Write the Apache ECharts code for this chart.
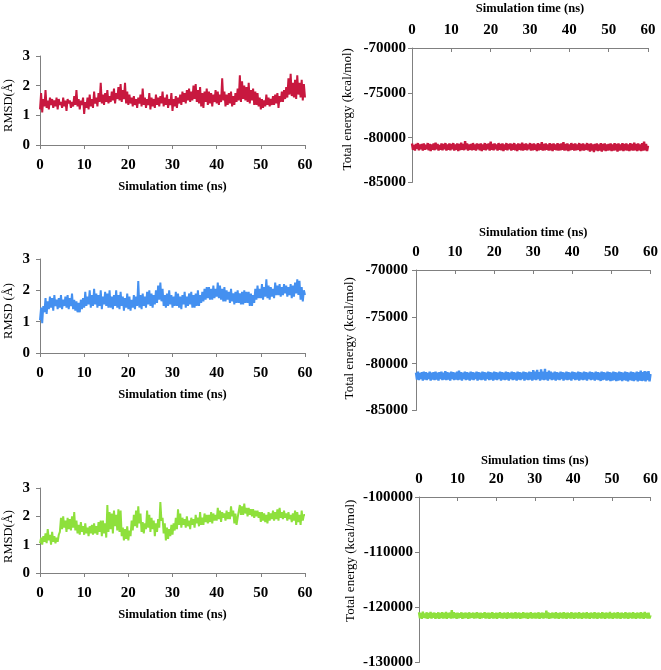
<!DOCTYPE html>
<html><head><meta charset="utf-8">
<script src="https://cdn.jsdelivr.net/npm/echarts@6/dist/echarts.min.js"></script>
<style>html,body{margin:0;padding:0;background:#fff}#c{width:661px;height:670px}</style>
</head><body><div id="c"></div>
<script>
// sampling steps (ns)
const rmsdStep = 0.25, energyStep = 0.25;

const rmsdRed = [
1.20,1.75,1.10,1.55, 1.30,1.85,1.25,1.50, 1.20,1.60,1.35,1.55, 1.25,1.50,1.30,1.60, 1.20,1.55,1.35,1.45,
1.25,1.60,1.30,1.50, 1.15,1.55,1.40,1.50, 1.25,1.45,1.30,1.65, 1.35,1.85,1.30,1.55, 1.20,1.50,1.35,1.60,
1.05,1.45,1.25,1.60, 1.20,1.70,1.30,1.55, 1.25,1.80,1.40,1.60, 1.30,1.75,1.45,2.10, 1.40,1.70,1.35,1.75,
1.45,1.85,1.40,1.65, 1.45,1.80,1.50,1.90, 1.40,1.75,1.55,1.95, 1.50,2.05,1.45,1.85, 1.55,2.10,1.40,1.80,
1.35,1.70,1.40,1.60, 1.30,1.65,1.35,1.55, 1.25,1.60,1.40,1.70, 1.30,1.90,1.35,1.60, 1.25,1.55,1.35,1.75,
1.20,1.60,1.30,1.55, 1.25,1.70,1.35,1.60, 1.30,1.65,1.40,1.80, 1.30,1.60,1.35,1.70, 1.25,1.55,1.35,1.75,
1.15,1.55,1.30,1.65, 1.25,1.60,1.40,1.70, 1.35,1.80,1.45,1.75, 1.40,1.85,1.50,1.90, 1.45,1.80,1.50,2.00,
1.55,2.05,1.45,1.85, 1.40,1.95,1.30,1.75, 1.25,1.80,1.45,1.90, 1.35,1.80,1.40,1.75, 1.30,1.70,1.45,1.85,
1.40,1.80,1.35,1.70, 1.45,2.25,1.50,1.80, 1.30,1.70,1.35,1.75, 1.40,1.80,1.30,1.65, 1.35,1.75,1.45,1.90,
1.50,2.35,1.45,2.15, 1.55,2.00,1.50,1.95, 1.45,2.10,1.40,1.85, 1.50,1.90,1.35,1.80, 1.35,1.75,1.30,1.60,
1.20,1.55,1.25,1.50, 1.30,1.70,1.35,1.60, 1.30,1.55,1.35,1.65, 1.35,1.70,1.40,1.75, 1.25,1.65,1.45,1.80,
1.45,1.85,1.55,1.95, 1.60,2.25,1.70,2.40, 1.65,2.10,1.60,2.20, 1.55,2.35,1.70,2.10, 1.60,2.20,1.50,2.05,
1.60];

const rmsdBlue = [
1.05,1.45,0.95,1.50, 1.30,1.75,1.25,1.65, 1.40,1.80,1.45,1.75, 1.35,1.85,1.50,1.70, 1.40,1.75,1.45,1.85,
1.40,1.70,1.50,1.80, 1.45,1.85,1.40,1.75, 1.50,1.90,1.40,1.70, 1.35,1.65,1.30,1.60, 1.30,1.70,1.40,1.75,
1.45,1.95,1.50,1.80, 1.55,2.00,1.45,1.85, 1.50,2.05,1.55,1.90, 1.45,1.85,1.50,2.00, 1.40,1.80,1.55,1.95,
1.50,1.90,1.45,2.00, 1.45,1.80,1.40,1.85, 1.50,2.00,1.45,1.85, 1.40,1.95,1.50,1.80, 1.35,1.75,1.45,1.90,
1.40,1.80,1.35,1.70, 1.45,1.85,1.40,1.80, 1.50,2.30,1.45,1.85, 1.40,1.90,1.50,1.80, 1.45,1.95,1.55,2.00,
1.50,1.90,1.45,1.85, 1.55,2.00,1.60,2.15, 1.70,2.25,1.65,2.05, 1.50,1.85,1.45,1.90, 1.50,2.00,1.55,1.85,
1.45,1.80,1.50,1.95, 1.50,1.90,1.45,1.80, 1.40,1.85,1.55,1.95, 1.45,1.80,1.50,1.90, 1.55,1.95,1.45,1.85,
1.45,1.90,1.50,2.00, 1.50,1.85,1.60,1.95, 1.65,2.05,1.70,2.10, 1.75,2.10,1.70,2.05, 1.70,2.15,1.75,2.05,
1.80,2.25,1.75,2.15, 1.70,2.05,1.65,2.10, 1.65,2.00,1.70,1.95, 1.60,2.05,1.65,1.90, 1.55,1.95,1.60,2.00,
1.60,1.90,1.55,1.95, 1.55,2.00,1.60,1.95, 1.60,1.95,1.50,1.90, 1.50,1.85,1.60,2.05, 1.70,2.15,1.75,2.05,
1.75,2.20,1.70,2.10, 1.80,2.35,1.75,2.15, 1.70,2.10,1.80,2.05, 1.75,2.25,1.85,2.15, 1.85,2.20,1.80,2.10,
1.85,2.20,1.90,2.15, 1.80,2.10,1.85,2.20, 1.75,2.15,1.80,2.25, 1.90,2.35,1.85,2.30, 1.70,2.10,1.65,2.00,
1.85];

const rmsdGreen = [
1.05,1.25,1.00,1.30, 1.10,1.40,1.05,1.55, 1.15,1.35,1.00,1.45, 1.10,1.30,1.05,1.25, 1.10,1.35,1.45,1.95,
1.55,2.00,1.60,1.85, 1.45,1.95,1.55,1.90, 1.50,2.00,1.60,2.15, 1.50,1.85,1.40,1.70, 1.35,1.80,1.45,1.65,
1.35,1.75,1.40,1.60, 1.30,1.65,1.40,1.70, 1.35,1.75,1.40,1.65, 1.35,1.80,1.45,1.85, 1.30,1.85,1.40,1.75,
1.25,2.40,1.45,2.15, 1.55,2.10,1.40,2.20, 1.65,2.05,1.50,2.25, 1.45,2.20,1.30,1.60, 1.15,1.55,1.20,1.65,
1.15,1.50,1.30,1.85, 1.50,2.05,1.65,2.20, 1.60,2.35,1.75,2.10, 1.45,1.80,1.40,1.75, 1.55,2.20,1.60,2.05,
1.45,1.95,1.55,1.85, 1.30,1.75,1.45,1.90, 1.60,2.50,1.85,1.95, 1.40,1.75,1.15,1.60, 1.20,1.55,1.30,1.70,
1.35,1.75,1.50,1.95, 1.55,2.25,1.70,2.10, 1.60,1.95,1.70,1.90, 1.60,2.00,1.65,1.85, 1.55,1.95,1.70,1.90,
1.60,2.05,1.75,1.95, 1.65,2.15,1.70,1.95, 1.70,2.10,1.80,2.05, 1.75,2.05,1.80,2.15, 1.75,2.10,1.85,2.05,
1.85,2.30,1.90,2.20, 1.80,2.15,1.95,2.10, 1.85,2.20,1.90,2.15, 1.90,2.35,2.00,2.20, 1.75,2.10,1.70,1.95,
2.00,2.40,2.05,2.35, 2.05,2.45,2.10,2.30, 2.00,2.30,2.05,2.25, 2.00,2.25,1.95,2.20, 2.00,2.20,1.95,2.15,
1.80,2.15,1.85,2.10, 1.80,2.05,1.75,2.15, 1.85,2.10,1.90,2.20, 1.85,2.15,1.90,2.25, 1.85,2.30,1.95,2.15,
1.90,2.20,1.95,2.10, 1.85,2.15,1.90,2.05, 1.80,2.10,1.85,2.20, 1.70,2.15,1.80,2.05, 1.70,2.20,1.85,2.05,
2.05];

const energyRed = [
-80650,-81350,-80800,-81450,-80700,-81250,-80600,-81400,-80750,-81300,
-80700,-81450,-80650,-81350,-80800,-81300,-80600,-81400,-80700,-81500,
-80750,-81350,-80650,-81400,-80550,-81300,-80700,-81450,-80800,-81350,
-80650,-81400,-80700,-81300,-80600,-81450,-80750,-81350,-80650,-81400,
-80700,-81300,-80600,-81450,-80750,-81350,-80650,-81500,-80700,-81400,
-80550,-81350,-80700,-81400,-80400,-81300,-80650,-81450,-80750,-81350,
-80700,-81400,-80600,-81350,-80750,-81450,-80650,-81300,-80700,-81400,
-80650,-81500,-80750,-81350,-80600,-81400,-80700,-81300,-80650,-81450,
-80450,-81350,-80700,-81400,-80650,-81300,-80750,-81450,-80600,-81350,
-80700,-81400,-80650,-81500,-80750,-81350,-80600,-81400,-80700,-81300,
-80650,-81450,-80700,-81350,-80600,-81400,-80750,-81500,-80650,-81350,
-80700,-81400,-80550,-81450,-80700,-81350,-80650,-81400,-80750,-81300,
-80600,-81450,-80700,-81400,-80650,-81350,-80750,-81500,-80600,-81400,
-80700,-81350,-80500,-81450,-80700,-81400,-80650,-81350,-80750,-81450,
-80600,-81400,-80700,-81500,-80650,-81350,-80750,-81400,-80600,-81450,
-80700,-81400,-80650,-81350,-80500,-81450,-80700,-81400,-80650,-81500,
-80750,-81400,-80600,-81350,-80700,-81450,-80650,-81400,-80750,-81350,
-80600,-81500,-80700,-81400,-80650,-81450,-80750,-81350,-80600,-81400,
-80700,-81550,-80650,-81450,-80750,-81600,-80700,-81400,-80650,-81500,
-80750,-81450,-80600,-81550,-80700,-81400,-80650,-81500,-80750,-81450,
-80700,-81400,-80650,-81500,-80750,-81450,-80600,-81400,-80700,-81550,
-80650,-81450,-80750,-81400,-80600,-81500,-80700,-81400,-80650,-81450,
-80750,-81500,-80600,-81400,-80700,-81450,-80550,-81400,-80700,-81500,
-80650,-81400,-80750,-81500,-80600,-81450,-80450,-81400,-80700,-81500,
-80900];

const energyBlue = [
-80950,-81700,-80850,-81750,-81000,-81650,-80900,-81800,-80850,-81700,
-80900,-81750,-81000,-81650,-80850,-81800,-80950,-81700,-80900,-81750,
-80850,-81700,-80950,-81800,-80900,-81650,-80850,-81750,-80950,-81700,
-80800,-81750,-80900,-81700,-80950,-81800,-80850,-81650,-80900,-81750,
-80950,-81700,-80850,-81750,-80750,-81700,-80900,-81800,-80950,-81650,
-80850,-81750,-80900,-81700,-80950,-81800,-80850,-81700,-80900,-81750,
-80950,-81650,-80850,-81800,-80900,-81700,-80950,-81750,-80850,-81700,
-80900,-81800,-80950,-81650,-80850,-81750,-80900,-81700,-80950,-81800,
-80850,-81700,-80900,-81750,-80950,-81650,-80850,-81800,-80900,-81700,
-80950,-81750,-80850,-81700,-80900,-81800,-80950,-81650,-80850,-81750,
-80900,-81700,-80950,-81800,-80850,-81700,-80900,-81750,-80950,-81650,
-80850,-81800,-80900,-81700,-80950,-81750,-80850,-81700,-80900,-81800,
-80700,-81700,-80850,-81750,-80650,-81650,-80900,-81800,-80600,-81700,
-80850,-81750,-80550,-81700,-80900,-81800,-80750,-81650,-80850,-81750,
-80950,-81700,-80850,-81800,-80900,-81700,-80950,-81750,-80850,-81650,
-80900,-81800,-80950,-81700,-80850,-81750,-80900,-81700,-80950,-81800,
-80850,-81650,-80900,-81750,-80950,-81700,-80850,-81800,-80900,-81700,
-80950,-81750,-80850,-81700,-80900,-81800,-80950,-81650,-80850,-81750,
-80900,-81700,-80950,-81800,-80850,-81700,-80900,-81750,-80950,-81850,
-80850,-81750,-80900,-81700,-80950,-81800,-80850,-81750,-80900,-81850,
-80950,-81800,-80850,-81750,-80900,-81850,-80950,-81800,-80850,-81750,
-80900,-81850,-80950,-81750,-80850,-81800,-80900,-81900,-80950,-81750,
-80850,-81800,-80900,-81850,-80950,-81750,-80850,-81900,-80900,-81800,
-80750,-81850,-80900,-81800,-80800,-81900,-80850,-81750,-80800,-81900,
-81100];

const energyGreen = [
-120900,-122000,-121000,-122100,-120800,-121900,-121100,-122000,-120900,-122100,
-121000,-121950,-120850,-122050,-121000,-121900,-120950,-122100,-121050,-122000,
-120900,-122100,-121000,-121950,-120900,-122050,-121000,-122000,-120850,-122100,
-121000,-121900,-120950,-122050,-120500,-122000,-120900,-121950,-121000,-122100,
-120950,-122000,-121050,-121900,-120900,-122100,-121000,-122000,-120950,-121950,
-121000,-122100,-120900,-122000,-121050,-121900,-120950,-122050,-121000,-122000,
-120900,-121950,-121000,-122100,-120950,-122000,-121050,-121900,-120900,-122050,
-121000,-122000,-120950,-122100,-121000,-121950,-120900,-122050,-121050,-122000,
-120950,-122100,-121000,-121900,-120900,-122000,-121050,-122050,-120950,-121950,
-121000,-122100,-120900,-122000,-121050,-121950,-120950,-122050,-121000,-122000,
-120900,-122050,-121000,-121950,-120950,-122100,-121050,-122000,-120900,-121950,
-121000,-122000,-120950,-122100,-121000,-121950,-120900,-122050,-121050,-122000,
-120950,-122050,-121000,-122000,-120900,-122100,-121000,-121950,-120950,-122050,
-121000,-121950,-120600,-122000,-120900,-122100,-121050,-122000,-120950,-121950,
-121000,-122050,-120900,-122000,-121050,-122100,-120950,-121950,-121000,-122050,
-120900,-122000,-121000,-122100,-120950,-121950,-121050,-122050,-120900,-122000,
-121000,-122100,-120950,-121950,-121000,-122050,-120900,-122000,-121050,-122100,
-120950,-121950,-121000,-122050,-120900,-122000,-121050,-122100,-120950,-121950,
-121000,-122050,-120900,-122000,-121000,-122100,-120950,-121950,-121050,-122050,
-120900,-122000,-121000,-122100,-120950,-121950,-121000,-122050,-120850,-122000,
-121050,-122100,-120950,-121950,-121000,-122050,-120900,-122000,-121000,-122100,
-120950,-121950,-121050,-122050,-120900,-122000,-121000,-122100,-120950,-121950,
-121000,-122050,-120900,-122000,-121050,-122100,-120950,-121950,-121000,-122050,
-120900,-122000,-121000,-122100,-120850,-121950,-121000,-122050,-120950,-122000,
-121400];

const colors = {red:'#C8183F', blue:'#4490F0', green:'#8EE03C'};

function pairs(vals, step){ return vals.map((v,i)=>[i*step, v]); }

const FONT = 'Liberation Serif';
const axisLineStyle = {color:'#808080', width:1};
const tickLabel = {color:'#000', fontFamily:FONT, fontWeight:'bold', fontSize:15, formatter:(v)=>String(v)};

const grids = [
  {left:40, top:56, width:265, height:89},
  {left:412, top:48, width:236, height:134.5},
  {left:40, top:259, width:265, height:94},
  {left:416, top:270, width:236, height:140.5},
  {left:40, top:488, width:265, height:85},
  {left:419, top:497, width:233, height:165.5}
];

function xAx(i, top, name, gap){
  return {type:'value', gridIndex:i, min:0, max:60, interval:10, position: top?'top':'bottom',
    name:name, nameLocation:'middle', nameGap:gap,
    nameTextStyle:{color:'#000', fontFamily:FONT, fontWeight:'bold', fontSize:12.5},
    axisLine:{show:true, lineStyle:axisLineStyle}, axisTick:{show:true, inside:top, length:4, lineStyle:axisLineStyle},
    axisLabel:Object.assign({margin:top?10:13, showMinLabel:true, showMaxLabel:true}, tickLabel), splitLine:{show:false}};
}
function yAx(i, min, max, interval, name, gap, pad, fs, margin){
  return {type:'value', gridIndex:i, min:min, max:max, interval:interval,
    name:name, nameLocation:'middle', nameGap:gap,
    nameTextStyle:{color:'#000', fontFamily:FONT, fontSize:fs, padding:pad},
    axisLine:{show:true, lineStyle:axisLineStyle}, axisTick:{show:true, length:4, lineStyle:axisLineStyle},
    axisLabel:Object.assign({margin:margin}, tickLabel), splitLine:{show:false}};
}

const option = {
  animation:false,
  backgroundColor:'#fff',
  grid: grids,
  xAxis:[
    xAx(0,false,'Simulation time (ns)',35),
    xAx(1,true,'Simulation time (ns)',33),
    xAx(2,false,'Simulation time (ns)',35),
    xAx(3,true,'Simulation time (ns)',31),
    xAx(4,false,'Simulation time (ns)',35),
    xAx(5,true,'Simulation tims (ns)',30)
  ],
  yAxis:[
    yAx(0,0,3,1,'RMSD(Å)',25,[0,10,0,0],12.5,10),
    yAx(1,-85000,-70000,5000,'Total energy (kcal/mol)',58,[0,0,0,12],13,6),
    yAx(2,0,3,1,'RMSD (Å)',25,[0,10,0,0],12.5,10),
    yAx(3,-85000,-70000,5000,'Total energy (kcal/mol)',60,[0,0,0,4],13,8),
    yAx(4,0,3,1,'RMSD(Å)',25,[0,12,0,0],12.5,10),
    yAx(5,-130000,-100000,10000,'Total energy (kcal/mol)',62,[0,0,0,38],13,6)
  ],
  series:[
    {type:'line', xAxisIndex:0, yAxisIndex:0, data:pairs(rmsdRed,rmsdStep), showSymbol:false, lineStyle:{color:colors.red,width:2}},
    {type:'line', xAxisIndex:1, yAxisIndex:1, data:pairs(energyRed,energyStep), showSymbol:false, lineStyle:{color:colors.red,width:2.4}},
    {type:'line', xAxisIndex:2, yAxisIndex:2, data:pairs(rmsdBlue,rmsdStep), showSymbol:false, lineStyle:{color:colors.blue,width:2}},
    {type:'line', xAxisIndex:3, yAxisIndex:3, data:pairs(energyBlue,energyStep), showSymbol:false, lineStyle:{color:colors.blue,width:2.4}},
    {type:'line', xAxisIndex:4, yAxisIndex:4, data:pairs(rmsdGreen,rmsdStep), showSymbol:false, lineStyle:{color:colors.green,width:2}},
    {type:'line', xAxisIndex:5, yAxisIndex:5, data:pairs(energyGreen,energyStep), showSymbol:false, lineStyle:{color:colors.green,width:2.4}}
  ]
};
const chart = echarts.init(document.getElementById('c'), null, {renderer:'canvas'});
chart.setOption(option);
</script></body></html>
